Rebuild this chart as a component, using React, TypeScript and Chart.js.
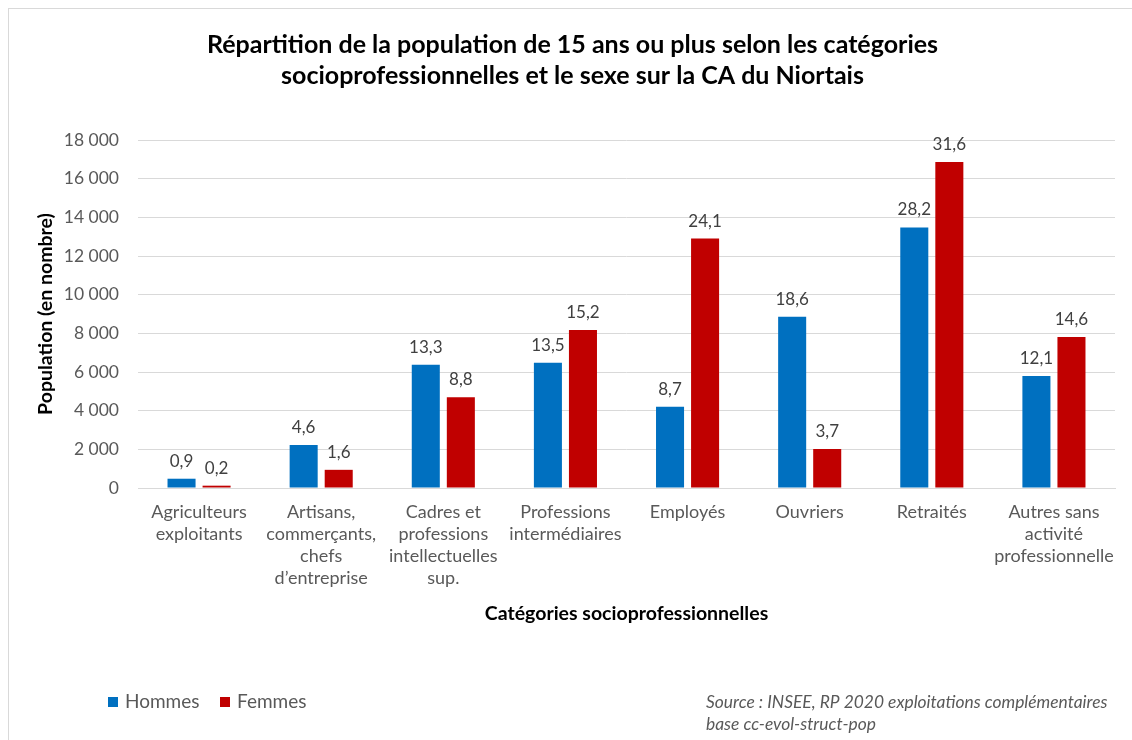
import React, { useEffect, useRef } from "react";
import { Chart, registerables } from "chart.js";

Chart.register(...registerables);

const titleLines = [
  "Répartition de la population de 15 ans ou plus selon les catégories",
  "socioprofessionnelles et le sexe sur la CA du Niortais",
];
const categories: (string | string[])[] = [
  ["Agriculteurs", "exploitants"],
  ["Artisans,", "commerçants,", "chefs", "d’entreprise"],
  ["Cadres et", "professions", "intellectuelles", "sup."],
  ["Professions", "intermédiaires"],
  "Employés",
  "Ouvriers",
  "Retraités",
  ["Autres sans", "activité", "professionnelle"],
];
const hommesValues = [480, 2220, 6380, 6480, 4200, 8860, 13480, 5790];
const femmesValues = [120, 940, 4690, 8170, 12900, 2020, 16860, 7810];
const hommesPct = ["0,9", "4,6", "13,3", "13,5", "8,7", "18,6", "28,2", "12,1"];
const femmesPct = ["0,2", "1,6", "8,8", "15,2", "24,1", "3,7", "31,6", "14,6"];
const yTicksMax = 18000;
const yTicksStep = 2000;
const legendLabels = ["Hommes", "Femmes"];
const sourceLines = [
  "Source : INSEE, RP 2020 exploitations complémentaires",
  "base cc-evol-struct-pop",
];

const BLUE = "#0070C0";
const RED = "#C00000";
const FONT = "Lato, 'Open Sans', sans-serif";

const fmt = (v: number) => String(v).replace(/\B(?=(\d{3})+(?!\d))/g, " ");

export default function App() {
  const ref = useRef<HTMLCanvasElement | null>(null);

  useEffect(() => {
    document.body.style.margin = "0";
    const canvas = ref.current;
    if (!canvas) return;

    const extras = {
      id: "extras",
      beforeDraw(chart: any) {
        const ctx = chart.ctx;
        ctx.save();
        ctx.fillStyle = "#ffffff";
        ctx.fillRect(0, 0, chart.width, chart.height);
        ctx.strokeStyle = "#d9d9d9";
        ctx.lineWidth = 1;
        ctx.strokeRect(8.5, 8.5, 1200, 900);
        ctx.restore();
      },
      afterDatasetsDraw(chart: any) {
        const ctx = chart.ctx;
        ctx.save();
        ctx.font = `17px ${FONT}`;
        ctx.fillStyle = "#404040";
        ctx.textAlign = "center";
        ctx.textBaseline = "alphabetic";
        const pcts = [hommesPct, femmesPct];
        chart.data.datasets.forEach((_: any, di: number) => {
          const meta = chart.getDatasetMeta(di);
          meta.data.forEach((bar: any, i: number) => {
            ctx.fillText(pcts[di][i], bar.x, bar.y - 12);
          });
        });
        ctx.restore();
      },
      afterDraw(chart: any) {
        const ctx = chart.ctx;
        ctx.save();
        // legend
        ctx.font = `19px ${FONT}`;
        ctx.textBaseline = "middle";
        ctx.textAlign = "left";
        const cols = [BLUE, RED];
        const lx = [108, 220];
        legendLabels.forEach((t, i) => {
          ctx.fillStyle = cols[i];
          ctx.fillRect(lx[i], 697, 10, 10);
          ctx.fillStyle = "#595959";
          ctx.fillText(t, lx[i] + 17, 702);
        });
        // source
        ctx.font = `italic 17.4px ${FONT}`;
        ctx.fillStyle = "#595959";
        ctx.fillText(sourceLines[0], 706, 702);
        ctx.fillText(sourceLines[1], 706, 724);
        ctx.restore();
      },
    };

    const chart = new Chart(canvas, {
      type: "bar",
      data: {
        labels: categories,
        datasets: [
          {
            label: legendLabels[0],
            data: hommesValues,
            backgroundColor: BLUE,
            categoryPercentage: 0.574,
            barPercentage: 0.8,
          },
          {
            label: legendLabels[1],
            data: femmesValues,
            backgroundColor: RED,
            categoryPercentage: 0.574,
            barPercentage: 0.8,
          },
        ],
      },
      options: {
        animation: false,
        responsive: false,
        maintainAspectRatio: false,
        layout: { padding: { left: 30, right: 17, top: 0, bottom: 112 } },
        plugins: {
          legend: { display: false },
          tooltip: { enabled: false },
          title: {
            display: true,
            text: titleLines,
            color: "#000000",
            font: { family: FONT, size: 25, weight: "bold", lineHeight: 1.24 },
            padding: { top: 29.5, bottom: 48.5 },
          },
        },
        scales: {
          x: {
            grid: { display: false, drawTicks: false },
            border: { display: true, color: "#d9d9d9" },
            ticks: {
              color: "#595959",
              font: { family: FONT, size: 18, lineHeight: 1.22 },
              padding: 13,
              maxRotation: 0,
              autoSkip: false,
            },
            title: {
              display: true,
              text: "Catégories socioprofessionnelles",
              color: "#000000",
              font: { family: FONT, size: 19.5, weight: "bold", lineHeight: 1.2 },
              padding: { top: 0, bottom: 2.3 },
            },
            afterFit(scale: any) {
              scale.height = 140;
            },
          },
          y: {
            min: 0,
            max: yTicksMax,
            grid: { color: "#d9d9d9", drawTicks: false },
            border: { display: false },
            ticks: {
              stepSize: yTicksStep,
              color: "#595959",
              font: { family: FONT, size: 17.5 },
              padding: 19,
              callback: (v: any) => fmt(Number(v)),
            },
            title: {
              display: true,
              text: "Population (en nombre)",
              color: "#000000",
              font: { family: FONT, size: 19.5, weight: "bold", lineHeight: 1.2 },
              padding: { top: 4.3, bottom: 0 },
            },
            afterFit(scale: any) {
              scale.width = 108;
            },
          },
        },
      },
      plugins: [extras],
    } as any);

    return () => chart.destroy();
  }, []);

  return (
    <div style={{ width: 1132, height: 740, position: "relative" }}>
      <canvas ref={ref} width={1132} height={740} style={{ display: "block" }} />
    </div>
  );
}
